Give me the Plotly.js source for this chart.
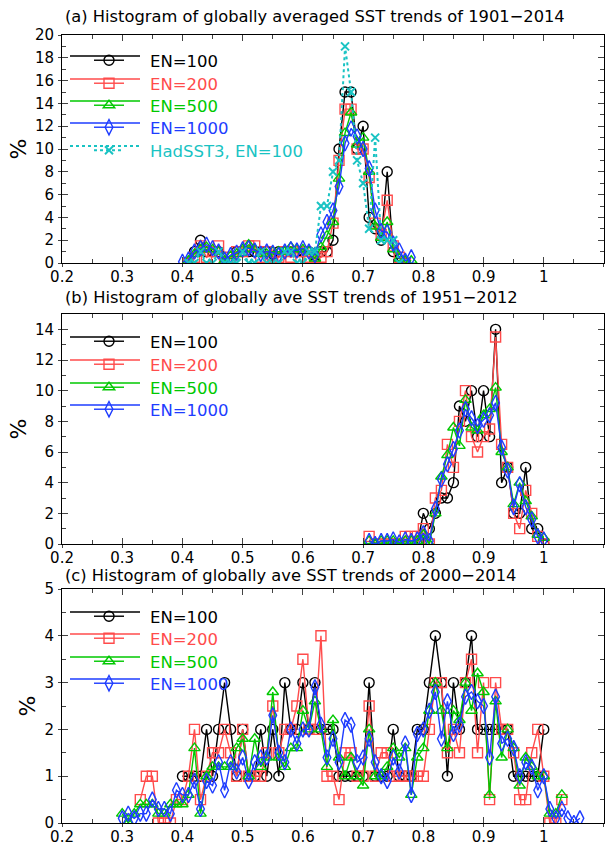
<!DOCTYPE html>
<html><head><meta charset="utf-8">
<script src="https://cdn.plot.ly/plotly-3.0.1.min.js"></script>
<style>body{margin:0;background:#fff} #chart{width:614px;height:847px}</style>
</head><body><div id="chart"></div>
<script>
// ---------- Panel (a) 1901-2014 ----------
const binsA = [0.40,0.41,0.42,0.43,0.44,0.45,0.46,0.47,0.48,0.49,
  0.50,0.51,0.52,0.53,0.54,0.55,0.56,0.57,0.58,0.59,
  0.60,0.61,0.62,0.63,0.64,0.65,0.66,0.67,0.68,0.69,
  0.70,0.71,0.72,0.73,0.74,0.75,0.76,0.77,0.78];
const a_en100 = [null,0,1,2,1,1,1,0,0,1, 1,1,1,1,1,0,1,1,1,1, 1,1,0,1,1,2,10,15,15,10, 12,4,3,2,8,1,0,0,null];
const a_en200 = [null,0,0.5,1.5,0.5,1,1.5,0,0.5,1, 1,1.5,1.5,0.5,1,0.5,0.5,1,0.5,1, 1,0.5,0.5,0.5,1,3.5,9,13.5,13.5,10, 10,7.5,3.5,2.5,5.5,1.5,0.5,0,null];
const a_en500 = [null,0.2,0.8,1.2,1.4,1.2,1.0,0.2,0.6,0.8, 1.2,1.6,1.2,0.8,0.8,1.0,1.0,1.0,1.4,1.2, 1.2,1.0,0.4,1.4,2.4,3.6,7.4,11.4,13.2,10.4, 11.0,8.0,3.2,2.2,3.6,1.2,0.4,0.2,0.2];
const a_en1000 = [0.1,0.3,1.0,1.3,1.6,1.3,1.0,0.3,0.7,0.9, 1.2,1.3,1.1,0.8,1.0,0.9,0.7,1.0,1.2,1.1, 1.3,1.0,0.7,2.5,3.6,4.6,6.7,10.5,11.8,11.1, 10.0,8.3,4.6,2.8,2.7,1.7,1.1,0.2,0.5];
const a_had = [null,0,0,1,0,0,1,0,0,0, 1,0,0,1,0,0,0,1,1,0, 0,1,1,5,5,8,9,19,15,9, 7,3,11,2,2,2,0,null,null];

// ---------- Panel (b) 1951-2012 ----------
const binsB = [0.71,0.72,0.73,0.74,0.75,0.76,0.77,0.78,0.79,0.80,
  0.81,0.82,0.83,0.84,0.85,0.86,0.87,0.88,0.89,0.90,
  0.91,0.92,0.93,0.94,0.95,0.96,0.97,0.98,0.99,1.00];
const b_en100 = [null,null,null,null,null,null,null,null,0,2, 1,2,3,3,4,9,8,10,7,10, 7,14,4,5,2,2,5,1,1,0];
const b_en200 = [0.5,0,0,0,0,0,0.5,0.5,0.5,1, 0,3,3.5,6.5,5,8,10,7,6,7, 7.5,13.5,6.5,5,2,1,3.5,2,0.5,0];
const b_en500 = [0.2,0,0.2,0.2,0.2,0,0.2,0.2,0.2,0.6, 0,2.0,4.4,5.8,7.6,6.4,9.4,7.6,7.4,8.4, 8.8,10.2,6.0,5.0,2.6,4.0,2.8,1.8,0.6,0.4];
const b_en1000 = [0.2,0,0.2,0.2,0.3,0.1,0.3,0.2,0.3,0.7, 0.2,2.3,4.2,5.2,6.2,7.4,8.8,8.2,7.7,8.1, 8.4,9.2,6.3,4.8,2.4,3.9,2.4,1.6,0.5,0.3];

// ---------- Panel (c) 2000-2014 ----------
const binsC = [0.30,0.31,0.32,0.33,0.34,0.35,0.36,0.37,0.38,0.39,
  0.40,0.41,0.42,0.43,0.44,0.45,0.46,0.47,0.48,0.49,
  0.50,0.51,0.52,0.53,0.54,0.55,0.56,0.57,0.58,0.59,
  0.60,0.61,0.62,0.63,0.64,0.65,0.66,0.67,0.68,0.69,
  0.70,0.71,0.72,0.73,0.74,0.75,0.76,0.77,0.78,0.79,
  0.80,0.81,0.82,0.83,0.84,0.85,0.86,0.87,0.88,0.89,
  0.90,0.91,0.92,0.93,0.94,0.95,0.96,0.97,0.98,0.99,
  1.00,1.01,1.02,1.03,1.04,1.05,1.06];
const c_en100 = [null,null,null,null,null,null,null,null,null,null,
  1,1,1,1,2,1,2,3,2,1, 2,1,1,2,1,2,1,3,2,2, 3,2,3,2,2,2,1,1,1,1,
  1,3,1,1,1,2,1,1,1,2, 2,3,4,3,1,3,2,3,4,2, 2,2,2,2,2,1,1,1,1,1,
  2,null,null,null,null,null,null];
const c_en200 = [null,null,null,0.5,1,1,0,0,0,0.5,
  0.5,1,2,0.5,1,1.5,1.5,2,1.5,1, 2,1,1,1,1.5,2.5,1.5,2,2,2.5, 3.5,2,2,4,1,1,0.5,1.5,1.5,1,
  1,2.5,1,1.5,1.5,1,1,1,1,1, 1,2,3,3,1.5,2,1.5,3,3.5,1.5, 3,0.5,3,2,2,1.5,0.5,0.5,1.5,2,
  1,0,0,0.5,null,null,null];
const c_en500 = [0.2,0,0.2,0.4,0.4,0.4,0.2,0.2,0.4,0.4,
  0.4,0.6,1.6,0.2,1.0,1.2,1.2,1.2,1.2,1.6, 1.8,1.0,1.8,1.2,1.4,2.8,1.4,1.2,1.6,1.6, 2.4,2.0,2.6,2.0,1.2,2.2,1.4,1.0,1.4,1.0,
  0.8,2.0,1.0,1.0,1.2,1.6,1.4,1.6,0.6,1.4, 1.6,2.4,3.0,2.4,1.6,2.4,2.2,3.0,2.4,3.2, 2.8,0.6,2.6,1.4,2.0,1.6,0.8,1.4,1.2,1.0,
  1.0,0.2,0.2,0.6,null,null,null];
const c_en1000 = [0.1,0.2,0.1,0.2,0.2,0.5,0.3,0.3,0.2,0.7,
  0.6,0.6,0.9,0.3,0.9,0.8,1.3,0.7,1.3,1.1, 1.4,0.9,1.3,1.4,1.4,2.3,1.5,1.3,2.0,1.7, 2.0,2.0,2.9,2.1,1.4,1.8,1.3,2.2,2.1,1.3,
  1.4,1.8,1.3,1.0,0.9,1.4,1.1,1.7,0.6,1.9, 2.0,2.4,2.8,1.8,2.6,1.9,2.1,2.7,2.8,2.6, 2.5,1.4,2.7,1.7,1.8,1.6,1.0,1.3,1.2,0.7,
  1.0,0.3,0.1,0.3,0.1,0,0.1];

const seriesNames = ['EN=100','EN=200','EN=500','EN=1000'];
const hadName = 'HadSST3, EN=100';
const panelTitles = ['(a) Histogram of globally averaged SST trends of 1901\u22122014',
  '(b) Histogram of globally ave SST trends of 1951\u22122012',
  '(c) Histogram of globally ave SST trends of 2000\u22122014'];
const xTicks = [0.2,0.3,0.4,0.5,0.6,0.7,0.8,0.9,1.0,1.1];

// styles
const COLORS = ['#000000','#ff4b4b','#00c800','#1e3cff'];
const CYAN = '#19c3c3';
const SYMBOLS = ['circle-open','square-open','triangle-up-open','diamond-tall-open'];
const SIZES = [10,10,10,11];
const FONT = 'DejaVu Sans, Liberation Sans, sans-serif';
const PAD = '\u00a0\u00a0\u00a0\u00a0';

const H = 847, W = 614, L = 62, R = 10;
const py = v => (H - v) / H;            // pixel row -> paper fraction
const px = v => (v - L) / (W - L - R);  // pixel column -> paper fraction

// legend rows (pixel centres) for each panel
const legendRows = [[56,79,101,123,146],[337,360,383,405],[612,634,657,679]];

const data = [];
const layout = {
  width:W, height:H, margin:{l:L, r:R, t:0, b:0},
  paper_bgcolor:'#fff', plot_bgcolor:'rgba(0,0,0,0)',
  font:{family:FONT, size:15, color:'#000'},
  showlegend:true, annotations:[], shapes:[]
};
const legendBase = {xref:'paper', yref:'paper', x:px(89), xanchor:'left', yanchor:'top',
  bgcolor:'rgba(0,0,0,0)', font:{size:16.5, family:FONT}, tracegroupgap:0};
let legendCount = 0;
function addLegend(row, col, dash, w) {
  legendCount += 1;
  const id = legendCount === 1 ? 'legend' : 'legend' + legendCount;
  layout[id] = Object.assign({}, legendBase, {y:py(row - 13)});
  layout.shapes.push({type:'line', xref:'paper', yref:'paper', x0:px(70), x1:px(140),
    y0:py(row), y1:py(row), line:{color:col, width:w, dash:dash}, layer:'below'});
  return id;
}

const panels = [
  {x:binsA, ys:[a_en100,a_en200,a_en500,a_en1000], xa:'x', ya:'y'},
  {x:binsB, ys:[b_en100,b_en200,b_en500,b_en1000], xa:'x2', ya:'y2'},
  {x:binsC, ys:[c_en100,c_en200,c_en500,c_en1000], xa:'x3', ya:'y3'}
];
panels.forEach((p, k) => {
  p.ys.forEach((ys, i) => {
    const lg = addLegend(legendRows[k][i], COLORS[i], 'solid', 1.4);
    data.push({x:p.x, y:ys, xaxis:p.xa, yaxis:p.ya, type:'scatter', mode:'lines+markers',
      name:PAD+'<span style="color:'+COLORS[i]+'">'+seriesNames[i]+'</span>',
      legend:lg, connectgaps:false,
      line:{color:COLORS[i], width:1.4},
      marker:{symbol:SYMBOLS[i], size:SIZES[i], color:COLORS[i], line:{width:1.4, color:COLORS[i]}}});
  });
  if (k === 0) {
    const lg = addLegend(legendRows[0][4], CYAN, 'dot', 2);
    data.push({x:binsA, y:a_had, xaxis:'x', yaxis:'y', type:'scatter', mode:'lines+markers',
      name:PAD+'<span style="color:'+CYAN+'">'+hadName+'</span>', legend:lg,
      line:{color:CYAN, width:2, dash:'dot'},
      marker:{symbol:'x-thin-open', size:8, color:CYAN, line:{width:2, color:CYAN}}});
  }
});
// empty carriers so the outward-tick overlay axes get drawn
for (let k = 0; k < 3; k++) {
  const sx = k === 0 ? '' : String(k+1);
  data.push({x:[], y:[], xaxis:'x'+(k+4), yaxis:'y'+sx, type:'scatter', showlegend:false, hoverinfo:'skip'});
  data.push({x:[], y:[], xaxis:'x'+sx, yaxis:'y'+(k+4), type:'scatter', showlegend:false, hoverinfo:'skip'});
}

const domains = [[py(263), py(35)], [py(544), py(314)], [py(823), py(589)]];
const yRanges = [[0,20],[0,15],[0,5]];
const yDticks = [2,2,1];
const yMinor = [1,1,0.5];
const XR = [0.19999, 1.10001];

for (let k = 0; k < 3; k++) {
  const sx = k === 0 ? '' : String(k+1);
  const ox = String(k+4);
  layout['xaxis'+sx] = {anchor:'y'+sx, domain:[0,1], range:XR, tickvals:xTicks,
    ticks:'inside', ticklen:6, tickwidth:1, showline:true, linewidth:1, linecolor:'#000', mirror:'ticks',
    showgrid:false, zeroline:false, tickfont:{size:15}, automargin:false, ticklabelstandoff:0,
    minor:{dtick:0.05, tick0:0.2, ticks:'inside', ticklen:4, tickwidth:1, showgrid:false}};
  layout['yaxis'+sx] = {anchor:'x'+sx, domain:domains[k], range:yRanges[k], dtick:yDticks[k], tick0:0,
    ticks:'inside', ticklen:6, tickwidth:1, showline:true, linewidth:1, linecolor:'#000', mirror:'ticks',
    showgrid:false, zeroline:false, tickfont:{size:15}, automargin:false, ticklabelstandoff:4,
    minor:{dtick:yMinor[k], tick0:0, ticks:'inside', ticklen:4, tickwidth:1, showgrid:false},
    title:{text:'%', font:{size:22}, standoff:2}};
  layout['xaxis'+ox] = {overlaying:'x'+sx, anchor:'y'+sx, range:XR, tickvals:xTicks,
    ticks:'outside', ticklen:3, tickwidth:1, showline:false, showticklabels:false,
    showgrid:false, zeroline:false};
  layout['yaxis'+ox] = {overlaying:'y'+sx, anchor:'x'+sx, range:yRanges[k], dtick:yDticks[k], tick0:0,
    ticks:'outside', ticklen:3, tickwidth:1, showline:false, showticklabels:false,
    showgrid:false, zeroline:false};
}

const titleRows = [17, 297, 576];
panelTitles.forEach((t, k) => {
  layout.annotations.push({text:t, xref:'paper', yref:'paper', x:0, xshift:1, xanchor:'left',
    y:py(titleRows[k]), yanchor:'middle', showarrow:false, font:{size:16.3, family:FONT}});
});

Plotly.newPlot('chart', data, layout, {displayModeBar:false, staticPlot:true});
</script></body></html>
